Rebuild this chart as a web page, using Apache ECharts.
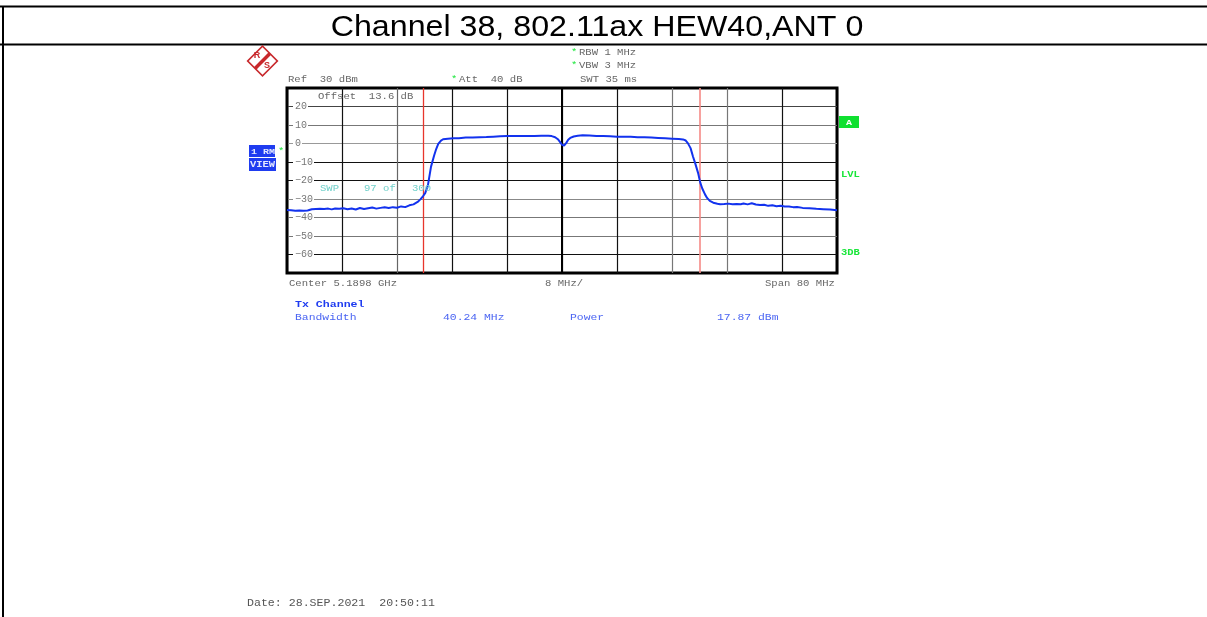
<!DOCTYPE html>
<html>
<head>
<meta charset="utf-8">
<style>html,body{margin:0;padding:0;background:#fff}#c{width:1207px;height:617px}</style>
<script src="https://cdn.jsdelivr.net/npm/echarts@6/dist/echarts.min.js"></script>
</head>
<body>
<div id="c"></div>
<script>
const titleText = 'Channel 38, 802.11ax HEW40,ANT 0';
const traceFreqMHz = [-40,-39.4,-38.8,-38.2,-37.6,-37,-36.4,-35.8,-35.2,-34.6,-34,-33.5,-33,-32.4,-31.8,-31.2,-30.6,-30,-29.4,-28.8,-28.2,-27.6,-27,-26.4,-25.8,-25.2,-24.6,-24,-23.4,-22.8,-22.2,-21.6,-21,-20.6,-20.2,-19.9,-19.5,-19.05,-18.6,-18.3,-18,-17.6,-17.3,-16.6,-15.8,-15,-14,-13,-12,-11,-10,-9,-8,-7,-6,-5,-4,-3,-2,-1.5,-1,-0.6,-0.3,0,0.3,0.6,0.9,1.2,1.7,2.3,3,4,5,6,7,8,9,10,11,12,13,14,15,16,17,17.6,18,18.3,18.7,19.05,19.4,19.8,20.1,20.4,20.8,21.1,21.5,22,22.6,23,23.6,24.2,24.8,25.4,26,26.4,27,27.6,28.2,28.8,29.4,30,30.6,31.2,31.8,32.4,33,33.6,34.2,35,36,37,38,39,40];
const traceLevelDb = [-35.9,-36.1,-36.4,-36.2,-36.4,-36.2,-35.5,-35.4,-35.3,-35.4,-35.2,-35.6,-35.1,-35.3,-35,-35.5,-35.1,-35.7,-34.9,-35.4,-35,-34.6,-35.2,-34.8,-34.5,-34.9,-34.4,-34.7,-34,-34.4,-33.4,-32.9,-31.6,-30.2,-28.4,-26.8,-22.5,-12.5,-6.5,-3,-0.2,1.6,2.3,2.6,2.8,2.9,3.2,3.3,3.4,3.5,3.7,3.9,4,4,4,4.1,4.1,4.2,4.2,4,3.4,2.3,0.9,-0.7,-1.1,0.2,2,3,3.8,4.2,4.4,4.3,4.1,4,3.9,3.7,3.6,3.6,3.4,3.4,3.2,3,2.8,2.6,2.4,2.2,1.6,0.2,-2.5,-7,-11,-16,-21,-24.3,-27.5,-29.4,-31,-32,-32.6,-32.8,-32.7,-32.5,-32.8,-32.7,-32.8,-32.4,-32.9,-32.3,-33,-33.3,-33.1,-33.7,-33.4,-33.9,-33.6,-34.1,-34,-34.4,-34.3,-34.8,-35,-35.3,-35.5,-35.7,-36.1];
const markerFreqMHz = [-20.14, 20.1];
const markerColors = ['#e8352c', '#f58a86'];
const centerLineMHz = 0;
const yTickValues = [20,10,0,-10,-20,-30,-40,-50,-60];
const yTickLabels = ['20','10','0','\u221210','\u221220','\u221230','\u221240','\u221250','\u221260'];
const yMin = -70, yMax = 30, yStep = 10;
const xMin = -40, xMax = 40, xStep = 8;

const mono = '"Liberation Mono","DejaVu Sans Mono",monospace';
// size = equivalent width in px; glyphs are drawn shorter and stretched, as on the analyser screen
function txt(x, y, text, fill, size, bold) {
  const s = size || 10.6, k = 1.25;
  return { type:'text', x, y, scaleX:k, z:20, silent:true,
    style:{ text, fill, font:(bold?'bold ':'')+(s/k)+'px '+mono, textVerticalAlign:'middle' } };
}
function hline(x1,y1,x2,y2,w){return {type:'line',z:20,silent:true,shape:{x1,y1,x2,y2},style:{stroke:'#000',lineWidth:w}};}
const gray='#666666', green='#19e639', cyan='#6fd0ca', blue='#4a64f2';

const chart = echarts.init(document.getElementById('c'), null, {renderer:'canvas'});
chart.setOption({
  animation:false,
  backgroundColor:'#fff',
  grid:{left:287,right:370,top:88,height:185,show:true,borderColor:'#000',borderWidth:3,backgroundColor:'transparent'},
  xAxis:{type:'value',min:xMin,max:xMax,interval:xStep,
    axisLine:{show:false},axisTick:{show:false},axisLabel:{show:false},
    splitLine:{show:true,lineStyle:{width:1.2,color:['#000','#111','#666','#111','#111','#111','#111','#777','#777','#111','#000']}}},
  yAxis:{type:'value',min:yMin,max:yMax,interval:yStep,
    axisLine:{show:false},axisTick:{show:false},
    axisLabel:{show:true,inside:true,margin:6,color:'#777777',fontFamily:mono,fontSize:10,
      backgroundColor:'#fff',padding:[1,1,1,2],showMinLabel:false,showMaxLabel:false,
      formatter:v=>{const i=yTickValues.indexOf(v);return i<0?'':yTickLabels[i];}},
    splitLine:{show:true,lineStyle:{width:1.2,color:['#000','#111','#777','#777','#888','#111','#111','#999','#777','#444','#000']}}},
  series:[
    {type:'line',data:traceFreqMHz.map((f,i)=>[f,traceLevelDb[i]]),showSymbol:false,smooth:false,z:6,
     lineStyle:{color:'#1232ee',width:2},
     markLine:{silent:true,symbol:'none',label:{show:false},animation:false,z:3,
       data:[
         {xAxis:centerLineMHz,lineStyle:{color:'#000',width:2,type:'solid'}},
         {xAxis:markerFreqMHz[0],lineStyle:{color:markerColors[0],width:1.3,type:'solid'}},
         {xAxis:markerFreqMHz[1],lineStyle:{color:markerColors[1],width:1.6,type:'solid'}}
       ]}}
  ],
  graphic:[
    hline(0,6.5,1207,6.5,2), hline(0,44.5,1207,44.5,2), hline(3,6,3,617,2),
    {type:'text',x:597,y:28,scaleX:1.11,z:20,silent:true,style:{text:titleText,fill:'#000',font:'29px "Liberation Sans",Arial,sans-serif',textAlign:'center',textVerticalAlign:'middle'}},
    // R&S logo
    {type:'group',x:262.5,y:61,rotation:Math.PI/4,z:20,silent:true,children:[
      {type:'rect',shape:{x:-10.5,y:-10.5,width:21,height:21},z:20,style:{fill:'none',stroke:'#c8282c',lineWidth:1.6}},
      {type:'line',shape:{x1:-10.5,y1:0,x2:10.5,y2:0},z:20,style:{stroke:'#c8282c',lineWidth:3.5}}
    ]},
    {type:'text',x:257,y:56,z:21,silent:true,style:{text:'R',fill:'#c8282c',font:'bold 9px "Liberation Sans"',textAlign:'center',textVerticalAlign:'middle'}},
    {type:'text',x:267,y:66,z:21,silent:true,style:{text:'S',fill:'#c8282c',font:'bold 9px "Liberation Sans"',textAlign:'center',textVerticalAlign:'middle'}},
    // header
    txt(288,79.5,'Ref  30 dBm',gray),
    txt(451,79.5,'*',green), txt(459,79.5,'Att  40 dB',gray),
    txt(571,52.5,'*',green), txt(579,52.5,'RBW 1 MHz',gray),
    txt(571,65.5,'*',green), txt(579,65.5,'VBW 3 MHz',gray),
    txt(580,79.5,'SWT 35 ms',gray),
    txt(318,96.5,'Offset  13.6 dB',gray),
    txt(320,188.5,'SWP',cyan), txt(364,188.5,'97 of',cyan), txt(412,188.5,'300',cyan),
    // left badge
    {type:'rect',shape:{x:249,y:145,width:26,height:12},z:20,silent:true,style:{fill:'#1f3cf0'}},
    {type:'rect',shape:{x:249,y:158,width:27,height:13},z:20,silent:true,style:{fill:'#1f3cf0'}},
    txt(251,151.5,'1 RM','#e4e8ff',10,true),
    txt(250,165,'VIEW','#e4e8ff',10.5,true),
    txt(278,152,'*',green),
    // right badges
    {type:'rect',shape:{x:839,y:116,width:20,height:12},z:20,silent:true,style:{fill:'#10e030'}},
    txt(846,122.5,'A','#fff',10,true),
    txt(841,175,'LVL',green,10.5,true),
    txt(841,253,'3DB',green,10.5,true),
    // footer of plot
    txt(289,283.5,'Center 5.1898 GHz',gray),
    txt(545,283.5,'8 MHz/',gray),
    txt(765,283.5,'Span 80 MHz',gray),
    txt(295,304.5,'Tx Channel','#1f3cf0',11.6,true),
    txt(295,317.5,'Bandwidth',blue,11.4),
    txt(443,317.5,'40.24 MHz',blue,11.4),
    txt(570,317.5,'Power',blue,11.4),
    txt(717,317.5,'17.87 dBm',blue,11.4),
    {type:'text',x:247,y:603,z:20,silent:true,style:{text:'Date: 28.SEP.2021  20:50:11',fill:'#555',font:'11.6px '+mono,textVerticalAlign:'middle'}}
  ]
});
</script>
</body>
</html>
